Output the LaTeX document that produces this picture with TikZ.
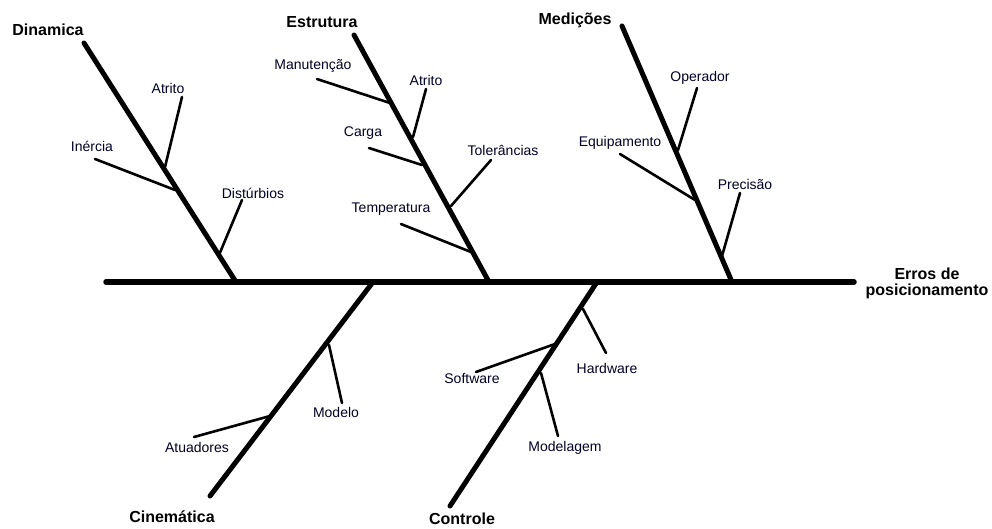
\documentclass[tikz,border=0pt]{standalone}
\usepackage{fontspec}
\setmainfont{Liberation Sans}
\begin{document}
\begin{tikzpicture}[x=1pt,y=-1pt,
  spine/.style={line width=5.5pt,line cap=round},
  bone/.style={line width=5pt,line cap=round},
  twig/.style={line width=2.6pt,line cap=round},
  cause/.style={font=\fontsize{14}{16}\selectfont,inner sep=0pt,text=black!85!blue},
  group/.style={font=\fontsize{16}{18}\selectfont\bfseries,inner sep=0pt,align=center}]
\useasboundingbox (0,0) rectangle (992,528);

% main spine and effect
\coordinate (s0) at (106,282);
\coordinate (s1) at (854,282);
\draw[spine] (s0) -- (s1);
\node[group] (effect) at (927,283) {Erros de\\[-2pt]posicionamento};

% --- Dinamica ---
\coordinate (d0) at (84,43);
\coordinate (d1) at (236,282);
\draw[bone] (d0) -- (d1);
\node[group] (gD) at (48,30) {Dinamica};
\coordinate (dA0) at (182,97);  \coordinate (dA1) at (165,167);
\coordinate (dI0) at (95,159);  \coordinate (dI1) at (175,190);
\coordinate (dT0) at (242,200); \coordinate (dT1) at (219,255);
\draw[twig] (dA0) -- (dA1);
\draw[twig] (dI0) -- (dI1);
\draw[twig] (dT0) -- (dT1);
\node[cause] (dA) at (168,88) {Atrito};
\node[cause] (dI) at (92,146) {Inércia};
\node[cause] (dT) at (253,193) {Distúrbios};

% --- Estrutura ---
\coordinate (e0) at (354,35);
\coordinate (e1) at (489,282);
\draw[bone] (e0) -- (e1);
\node[group] (gE) at (322,22) {Estrutura};
\coordinate (eM0) at (317,79);  \coordinate (eM1) at (390,103);
\coordinate (eA0) at (426,89);  \coordinate (eA1) at (413,137);
\coordinate (eC0) at (369,148); \coordinate (eC1) at (422,165);
\coordinate (eT0) at (491,160); \coordinate (eT1) at (451,206);
\coordinate (eP0) at (401,224); \coordinate (eP1) at (471,252);
\draw[twig] (eM0) -- (eM1);
\draw[twig] (eA0) -- (eA1);
\draw[twig] (eC0) -- (eC1);
\draw[twig] (eT0) -- (eT1);
\draw[twig] (eP0) -- (eP1);
\node[cause] (eM) at (313,66) {Manutenção};
\node[cause] (eA) at (426,80) {Atrito};
\node[cause] (eC) at (363,133) {Carga};
\node[cause] (eT) at (503,150) {Tolerâncias};
\node[cause] (eP) at (391,209) {Temperatura};

% --- Medições ---
\coordinate (m0) at (622,26);
\coordinate (m1) at (732,282);
\draw[bone] (m0) -- (m1);
\node[group] (gM) at (575,20) {Medições};
\coordinate (mO0) at (697,88);  \coordinate (mO1) at (678,150);
\coordinate (mE0) at (620,154); \coordinate (mE1) at (695,200);
\coordinate (mP0) at (740,193); \coordinate (mP1) at (722,256);
\draw[twig] (mO0) -- (mO1);
\draw[twig] (mE0) -- (mE1);
\draw[twig] (mP0) -- (mP1);
\node[cause] (mO) at (700,78) {Operador};
\node[cause] (mE) at (620,143) {Equipamento};
\node[cause] (mP) at (745,184) {Precisão};

% --- Cinemática ---
\coordinate (c0) at (373,282);
\coordinate (c1) at (210,496);
\draw[bone] (c0) -- (c1);
\node[group] (gC) at (172,517) {Cinemática};
\coordinate (cM0) at (329,345); \coordinate (cM1) at (342,403);
\coordinate (cA0) at (270,416); \coordinate (cA1) at (194,437);
\draw[twig] (cM0) -- (cM1);
\draw[twig] (cA0) -- (cA1);
\node[cause] (cM) at (336,412) {Modelo};
\node[cause] (cA) at (197,447) {Atuadores};

% --- Controle ---
\coordinate (k0) at (597,282);
\coordinate (k1) at (450,506);
\draw[bone] (k0) -- (k1);
\node[group] (gK) at (462,519) {Controle};
\coordinate (kH0) at (583,309); \coordinate (kH1) at (606,353);
\coordinate (kS0) at (555,344); \coordinate (kS1) at (476,372);
\coordinate (kM0) at (541,373); \coordinate (kM1) at (558,436);
\draw[twig] (kH0) -- (kH1);
\draw[twig] (kS0) -- (kS1);
\draw[twig] (kM0) -- (kM1);
\node[cause] (kH) at (607,368) {Hardware};
\node[cause] (kS) at (472,378) {Software};
\node[cause] (kM) at (565,448) {Modelagem};
\end{tikzpicture}
\end{document}
